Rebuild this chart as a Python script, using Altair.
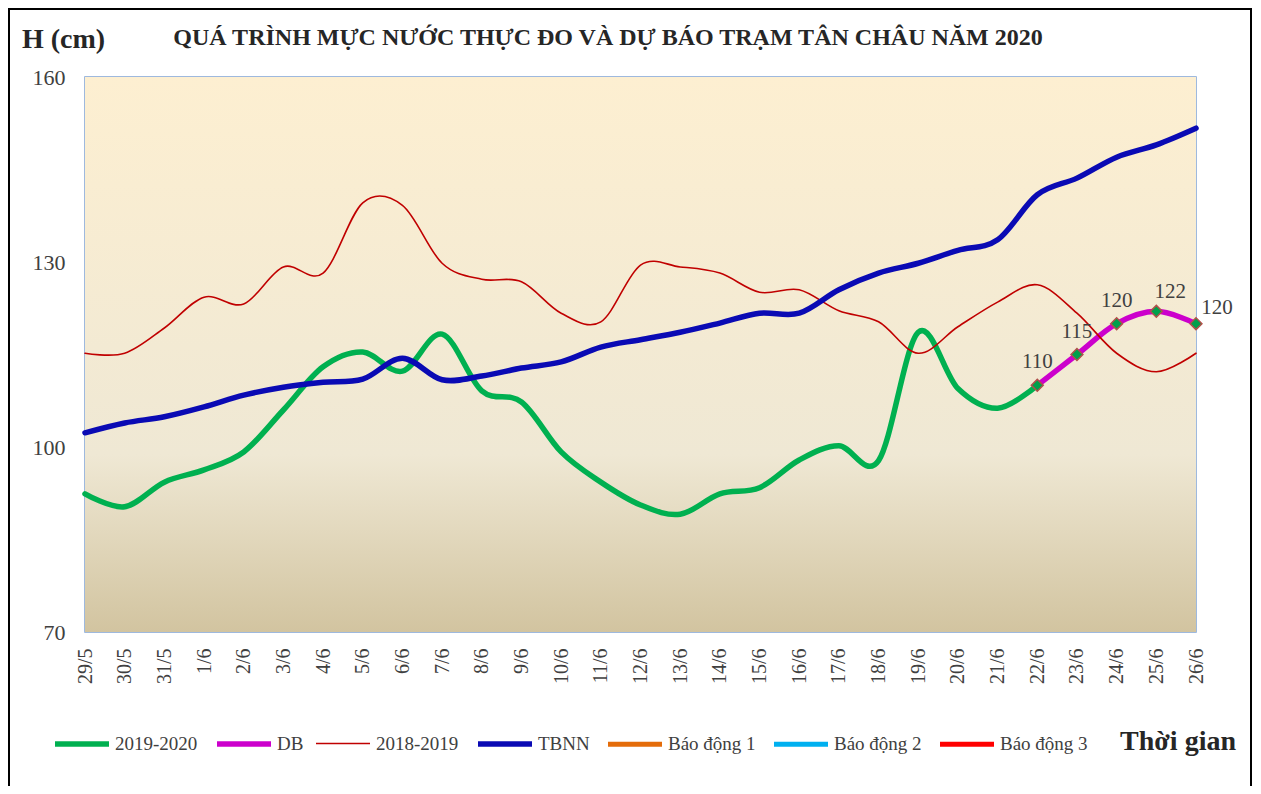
import altair as alt
import pandas as pd

dates = ["29/5", "30/5", "31/5", "1/6", "2/6", "3/6", "4/6", "5/6", "6/6", "7/6",
         "8/6", "9/6", "10/6", "11/6", "12/6", "13/6", "14/6", "15/6", "16/6", "17/6",
         "18/6", "19/6", "20/6", "21/6", "22/6", "23/6", "24/6", "25/6", "26/6"]

# 2019-2020 observed (ends at 22/6 where forecast starts)
obs_2020 = [92.4, 90.3, 94.3, 96.3, 99.2, 106.0, 113.0, 115.4, 112.3, 118.3,
            109.1, 107.3, 99.2, 94.3, 90.6, 89.1, 92.4, 93.4, 97.9, 100.2,
            97.8, 118.6, 109.5, 106.3, 110.0]

# DB forecast 22/6 .. 26/6
db_dates = ["22/6", "23/6", "24/6", "25/6", "26/6"]
db_vals = [110, 115, 120, 122, 120]

# 2018-2019
obs_2019 = [115.2, 115.2, 119.3, 124.3, 123.2, 129.2, 128.2, 139.6, 139.2, 129.8,
            127.2, 126.8, 121.7, 120.3, 129.5, 129.2, 128.2, 125.1, 125.5, 122.1,
            120.3, 115.2, 119.5, 123.5, 126.3, 121.7, 115.2, 112.2, 115.2]

# TBNN (multi-year average)
tbnn = [102.3, 103.9, 104.9, 106.5, 108.4, 109.7, 110.5, 111.0, 114.4, 110.9,
        111.5, 112.8, 113.8, 116.2, 117.4, 118.6, 120.1, 121.7, 121.7, 125.5,
        128.2, 129.8, 131.9, 133.6, 140.9, 143.6, 147.0, 149.0, 151.7]

series_names = ["2019-2020", "DB", "2018-2019", "TBNN", "Báo động 1", "Báo động 2", "Báo động 3"]
series_colors = ["#00B050", "#CC00CC", "#C00000", "#0A0AB4", "#E46C0A", "#00B0F0", "#FF0000"]
series_widths = [5.5, 5.5, 1.6, 5.5, 5, 5, 5]
y_ticks = [70, 100, 130, 160]

rows = []
for d, v in zip(dates, obs_2020):
    rows.append({"date": d, "value": v, "series": "2019-2020", "order": 0})
for d, v in zip(db_dates, db_vals):
    rows.append({"date": d, "value": v, "series": "DB", "order": 1})
for d, v in zip(dates, obs_2019):
    rows.append({"date": d, "value": v, "series": "2018-2019", "order": 2})
for d, v in zip(dates, tbnn):
    rows.append({"date": d, "value": v, "series": "TBNN", "order": 3})
df = pd.DataFrame(rows)
db_df = pd.DataFrame({"date": db_dates, "value": db_vals})

W, H = 1111, 555
SERIF = "Liberation Serif"

x_enc = alt.X("date:O", sort=dates, scale=alt.Scale(type="point", padding=0),
              axis=alt.Axis(title=None, labelAngle=270, labelPadding=16, ticks=False,
                            domain=False, labelFont=SERIF, labelFontSize=20,
                            labelColor="#404040"))
y_enc = alt.Y("value:Q", scale=alt.Scale(domain=[70, 160], nice=False, zero=False),
              axis=alt.Axis(title=None, values=y_ticks, grid=False, ticks=False,
                            domain=False, labelPadding=20, labelFont=SERIF,
                            labelFontSize=22, labelColor="#404040"))

one = pd.DataFrame({"a": [0]})

bg = alt.Chart(one).mark_rect(
    color=alt.Gradient(gradient="linear", x1=0, x2=0, y1=0, y2=1,
                       stops=[alt.GradientStop(offset=0, color="#FDEFD1"),
                              alt.GradientStop(offset=0.68, color="#EFE8D4"),
                              alt.GradientStop(offset=1, color="#D2C4A0")])
).encode(x=alt.value(0), x2=alt.value(W), y=alt.value(0), y2=alt.value(H))

frame = alt.Chart(one).mark_rect(fill=None, stroke="#000000", strokeWidth=2).encode(
    x=alt.value(-76), x2=alt.value(1166), y=alt.value(-68), y2=alt.value(760))

legend = alt.Legend(title=None, orient="none", legendX=-33, legendY=637,
                    direction="horizontal", columns=7, symbolType="stroke",
                    symbolSize=2916, labelFont=SERIF, labelFontSize=19,
                    labelColor="#404040", labelOffset=3, columnPadding=8)

lines = alt.Chart(df).mark_line(interpolate="cardinal", strokeCap="round").encode(
    x=x_enc, y=y_enc,
    color=alt.Color("series:N", scale=alt.Scale(domain=series_names, range=series_colors),
                    legend=legend),
    strokeWidth=alt.StrokeWidth("series:N",
                                scale=alt.Scale(type="ordinal", domain=series_names,
                                                range=series_widths),
                                legend=legend),
    order=alt.Order("order:Q"),
    detail="series:N",
)

points = alt.Chart(db_df).mark_point(shape="diamond", filled=True, fill="#00A04B",
                                     stroke="#B0504A", strokeWidth=1.5, size=140,
                                     opacity=1).encode(
    x=alt.X("date:O", sort=dates), y="value:Q")

lbl_style = dict(font=SERIF, fontSize=21, color="#404040")
labels_a = alt.Chart(db_df).transform_filter(
    alt.FieldOneOfPredicate(field="date", oneOf=["22/6", "23/6", "24/6"])
).mark_text(dy=-23, dx=0, **lbl_style).encode(
    x=alt.X("date:O", sort=dates), y="value:Q", text="value:Q")
labels_b = alt.Chart(db_df).transform_filter(
    alt.FieldEqualPredicate(field="date", equal="25/6")
).mark_text(dy=-19, dx=14, **lbl_style).encode(
    x=alt.X("date:O", sort=dates), y="value:Q", text="value:Q")
labels_c = alt.Chart(db_df).transform_filter(
    alt.FieldEqualPredicate(field="date", equal="26/6")
).mark_text(dy=-16, dx=21, **lbl_style).encode(
    x=alt.X("date:O", sort=dates), y="value:Q", text="value:Q")

ylab = alt.Chart(one).mark_text(font=SERIF, fontSize=28, fontWeight="bold",
                                color="#262626", align="left", baseline="middle").encode(
    x=alt.value(-63), y=alt.value(-37), text=alt.value("H (cm)"))
title = alt.Chart(one).mark_text(font=SERIF, fontSize=24, fontWeight="bold",
                                 color="#262626", align="center", baseline="middle").encode(
    x=alt.value(523), y=alt.value(-39),
    text=alt.value("QUÁ TRÌNH MỰC NƯỚC THỰC ĐO VÀ DỰ BÁO TRẠM TÂN CHÂU NĂM 2020"))
xlab = alt.Chart(one).mark_text(font=SERIF, fontSize=28, fontWeight="bold",
                                color="#262626", align="right", baseline="middle").encode(
    x=alt.value(1151), y=alt.value(665), text=alt.value("Thời gian"))

chart = alt.layer(bg, lines, points, labels_a, labels_b, labels_c, ylab, title, xlab, frame
).properties(
    width=W, height=H,
    autosize=alt.AutoSizeParams(type="none"),
    padding={"left": 77, "top": 69, "right": 57, "bottom": 154},
    background="#FFFFFF",
).configure_view(stroke="#7FA2D4", strokeWidth=1.5)

chart.save("out.html", embed_options={"renderer": "svg", "actions": False})
